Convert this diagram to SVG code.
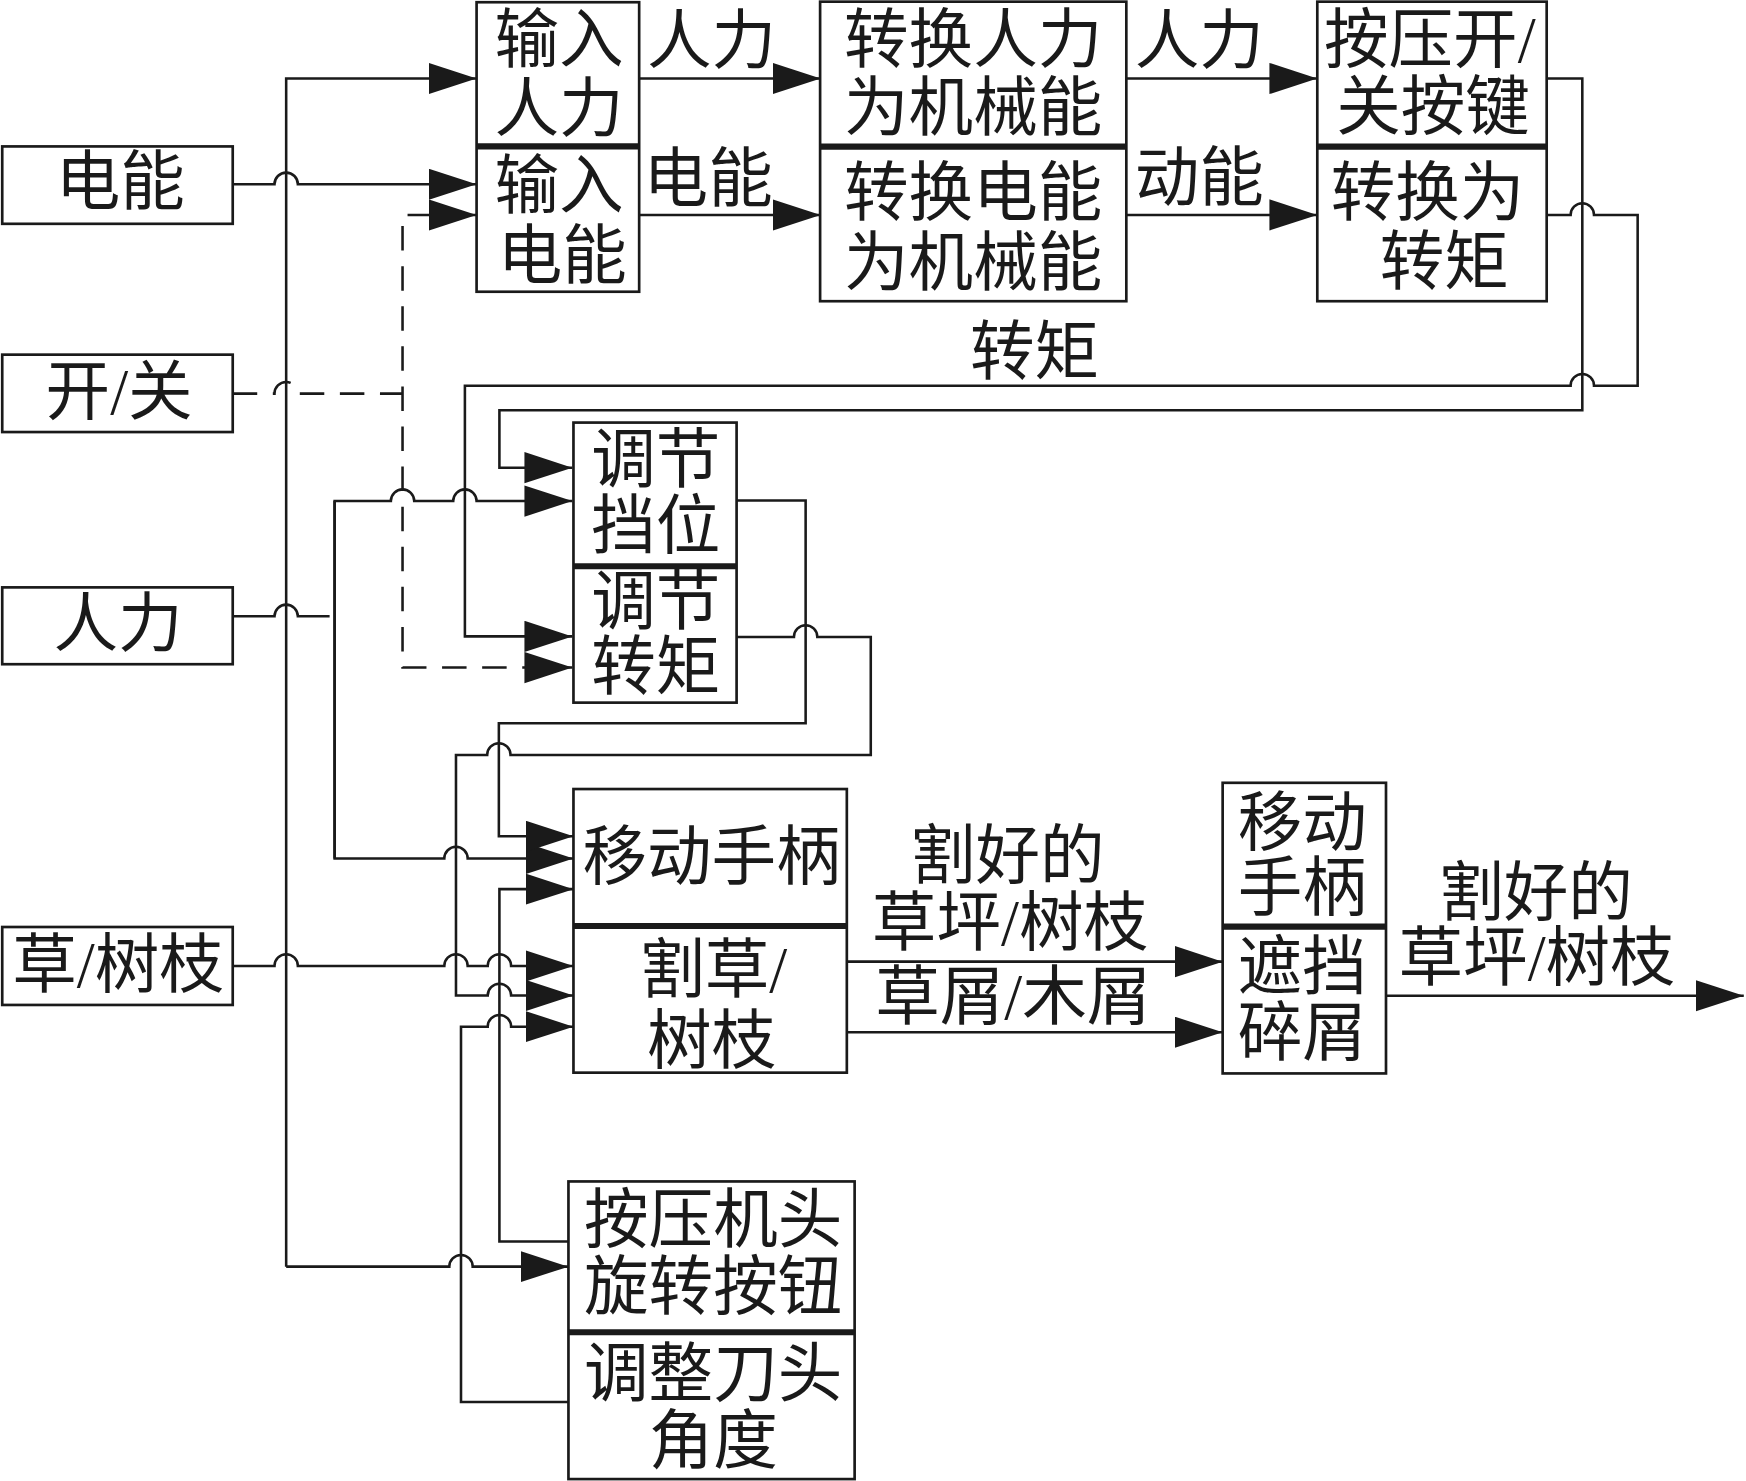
<svg xmlns="http://www.w3.org/2000/svg" width="1746" height="1481" viewBox="0 0 1746 1481">
<defs>
<style>
.box{fill:#fff;stroke:#1a1a1a;stroke-width:2.4}
.div{stroke:#1a1a1a;stroke-width:5.5}
.ln{fill:none;stroke:#1a1a1a;stroke-width:2.3}
.dash{stroke-dasharray:22 14}
.t{font-family:"Liberation Serif","Noto Sans CJK SC",serif;font-size:58px;fill:#1a1a1a;text-anchor:middle;dominant-baseline:central}
</style>
<marker id="arr" markerUnits="userSpaceOnUse" markerWidth="44" markerHeight="30" refX="43" refY="14" orient="auto">
<path d="M0,0 L43,14 L0,28 Z" fill="#1a1a1a"/>
</marker>
</defs>
<rect width="1746" height="1481" fill="#fff"/>
<g transform="scale(1.11352)">
<g id="connectors">
<path class="ln" marker-end="url(#arr)" d="M257,1137.5 V70.5 H428"/>
<path class="ln" marker-end="url(#arr)" d="M257,1137.5 H403.5 A10.5 10.5 0 0 1 424.5,1137.5 H510.5"/>
<path class="ln" marker-end="url(#arr)" d="M209,165.5 H246.5 A10.5 10.5 0 0 1 267.5,165.5 H428"/>
<path class="ln dash" d="M209,353.5 H246.5 A10.5 10.5 0 0 1 267.5,353.5 H361.5"/>
<path class="ln" marker-end="url(#arr)" d="M366,193 H428"/>
<path class="ln dash" marker-end="url(#arr)" d="M361.5,203 V599.5 H514"/>
<path class="ln" marker-end="url(#arr)" d="M574,70.5 H737"/>
<path class="ln" marker-end="url(#arr)" d="M574,193 H737"/>
<path class="ln" marker-end="url(#arr)" d="M1011.7,70.5 H1183"/>
<path class="ln" marker-end="url(#arr)" d="M1011.7,193 H1183"/>
<path class="ln" marker-end="url(#arr)" d="M1389,70.5 H1421 V368.5 H448.5 V420 H514"/>
<path class="ln" marker-end="url(#arr)" d="M1389,193 H1410.5 A10.5 10.5 0 0 1 1431.5,193 H1470.7 V346.4 H1431.5 A10.5 10.5 0 0 0 1410.5,346.4 H417.5 V571.5 H514"/>
<path class="ln" d="M209,553.5 H246.5 A10.5 10.5 0 0 1 267.5,553.5 H296"/>
<path class="ln" marker-end="url(#arr)" d="M300.5,771 V450 H351 A10.5 10.5 0 0 1 372,450 H407 A10.5 10.5 0 0 1 428,450 H514"/>
<path class="ln" marker-end="url(#arr)" d="M300.5,450 V771 H399 A10.5 10.5 0 0 1 420,771 H515"/>
<path class="ln" marker-end="url(#arr)" d="M661.5,449.5 H723.5 V649.5 H448 V751 H515"/>
<path class="ln" marker-end="url(#arr)" d="M661.5,572 H713 A10.5 10.5 0 0 1 734,572 H782 V678 H458.5 A10.5 10.5 0 0 0 437.5,678 H409.5 V894 H438 A10.5 10.5 0 0 1 459,894 H515"/>
<path class="ln" marker-end="url(#arr)" d="M209,867.5 H246.5 A10.5 10.5 0 0 1 267.5,867.5 H399 A10.5 10.5 0 0 1 420,867.5 H438 A10.5 10.5 0 0 1 459,867.5 H515"/>
<path class="ln" marker-end="url(#arr)" d="M510.5,1115 H448.5 V798.5 H515"/>
<path class="ln" marker-end="url(#arr)" d="M510.5,1259 H414 V922 H438 A10.5 10.5 0 0 1 459,922 H515"/>
<path class="ln" marker-end="url(#arr)" d="M760.5,863.6 H1098"/>
<path class="ln" marker-end="url(#arr)" d="M760.5,927 H1098"/>
<path class="ln" marker-end="url(#arr)" d="M1244.7,894.2 H1566"/>
<text class="t" x="639" y="37">人力</text>
<text class="t" x="636" y="161">电能</text>
<text class="t" x="1077" y="37">人力</text>
<text class="t" x="1077" y="160">动能</text>
<text class="t" x="929" y="316">转矩</text>
<text class="t" x="905" y="769">割好的</text>
<text class="t" x="907" y="829">草坪/树枝</text>
<text class="t" x="910" y="895">草屑/木屑</text>
<text class="t" x="1379.5" y="802">割好的</text>
<text class="t" x="1380" y="860.5">草坪/树枝</text>
</g>
<g id="n-dianneng">
<rect class="box" x="2" y="131.5" width="207" height="69.5"/>
<text class="t" x="108" y="163">电能</text>
</g>
<g id="n-kaiguan">
<rect class="box" x="2" y="318.5" width="207" height="69.5"/>
<text class="t" x="107" y="352">开/关</text>
</g>
<g id="n-renli">
<rect class="box" x="2" y="527.5" width="207" height="69"/>
<text class="t" x="106" y="560">人力</text>
</g>
<g id="n-caoshuzhi">
<rect class="box" x="2" y="832.5" width="207" height="70"/>
<text class="t" x="106" y="867">草/树枝</text>
</g>
<g id="n-input">
<rect class="box" x="428" y="2" width="146" height="260"/>
<line class="div" x1="428" y1="131.5" x2="574" y2="131.5"/>
<text class="t" x="502" y="36">输入</text>
<text class="t" x="502" y="98">人力</text>
<text class="t" x="502" y="167">输入</text>
<text class="t" x="505" y="229.5">电能</text>
</g>
<g id="n-convert">
<rect class="box" x="736.5" y="1.5" width="275" height="269"/>
<line class="div" x1="736.5" y1="131.7" x2="1011.5" y2="131.7"/>
<text class="t" x="874" y="35.5">转换人力</text>
<text class="t" x="874" y="97">为机械能</text>
<text class="t" x="874" y="173">转换电能</text>
<text class="t" x="874" y="236">为机械能</text>
</g>
<g id="n-switch">
<rect class="box" x="1183" y="1.5" width="206" height="269"/>
<line class="div" x1="1183" y1="131.7" x2="1389" y2="131.7"/>
<text class="t" x="1284" y="36">按压开/</text>
<text class="t" x="1287" y="96.5">关按键</text>
<text class="t" x="1282" y="173">转换为</text>
<text class="t" x="1297" y="235">转矩</text>
</g>
<g id="n-adjust">
<rect class="box" x="515" y="379.5" width="146.5" height="251.5"/>
<line class="div" x1="515" y1="508.5" x2="661.5" y2="508.5"/>
<text class="t" x="589" y="413">调节</text>
<text class="t" x="589" y="472">挡位</text>
<text class="t" x="589" y="541">调节</text>
<text class="t" x="589" y="599">转矩</text>
</g>
<g id="n-cut">
<rect class="box" x="515" y="708.6" width="245.5" height="254.7"/>
<line class="div" x1="515" y1="831.6" x2="760.5" y2="831.6"/>
<text class="t" x="639" y="770">移动手柄</text>
<text class="t" x="641" y="871.5">割草/</text>
<text class="t" x="639" y="935">树枝</text>
</g>
<g id="n-shield">
<rect class="box" x="1098" y="703" width="146.7" height="261"/>
<line class="div" x1="1098" y1="832.2" x2="1244.7" y2="832.2"/>
<text class="t" x="1169.5" y="739">移动</text>
<text class="t" x="1169.5" y="797.5">手柄</text>
<text class="t" x="1169.5" y="868">遮挡</text>
<text class="t" x="1169.5" y="928">碎屑</text>
</g>
<g id="n-head">
<rect class="box" x="510.5" y="1061" width="257" height="267.3"/>
<line class="div" x1="510.5" y1="1196.4" x2="767.5" y2="1196.4"/>
<text class="t" x="640.5" y="1096">按压机头</text>
<text class="t" x="640.5" y="1155.5">旋转按钮</text>
<text class="t" x="640.5" y="1233.5">调整刀头</text>
<text class="t" x="640.5" y="1294">角度</text>
</g>
</g>
</svg>
